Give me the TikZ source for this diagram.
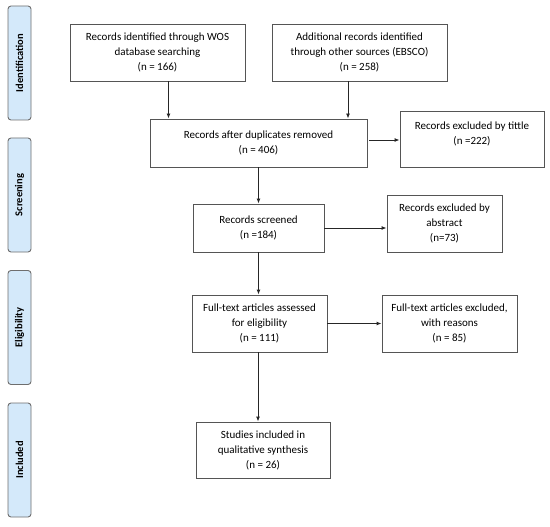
\documentclass[tikz,border=0pt]{standalone}
\usepackage{fontspec}
\setmainfont{Carlito}
\usepackage{tikz}
\usetikzlibrary{arrows.meta}

\definecolor{phasefill}{RGB}{212,233,250}
\definecolor{phaseline}{RGB}{110,110,110}
\definecolor{boxline}{RGB}{85,85,85}

\tikzset{
  flowbox/.style={draw=boxline,line width=0.9pt,fill=white,align=center,inner sep=2pt,
    font=\fontsize{11}{15}\selectfont},
  phase/.style={draw=phaseline,line width=0.9pt,fill=phasefill,rounded corners=3pt,
    minimum width=23pt,minimum height=114pt,inner sep=0pt,
    font=\fontsize{10.5}{12}\selectfont\bfseries},
  arr/.style={-{Latex[length=5pt,width=4pt]},line width=0.9pt,draw=black!85}
}

\begin{document}
\begin{tikzpicture}[x=1pt,y=-1pt]
	\useasboundingbox (0,0) rectangle (550,527);
	% phases on the left
	\node[phase] (pIdent) at (19.5,63) {\rotatebox{90}{Identification}};
	\node[phase] (pScreen) at (19.5,195) {\rotatebox{90}{Screening}};
	\node[phase] (pElig) at (19.5,327.5) {\rotatebox{90}{Eligibility}};
	\node[phase] (pIncl) at (19.5,460) {\rotatebox{90}{Included}};
	% boxes
	\node[flowbox,minimum width=175pt,minimum height=57pt] (wos) at (157.5,52.5)
		{Records identified through WOS\\database searching\\(n = 166)};
	\node[flowbox,minimum width=175pt,minimum height=57pt] (ebsco) at (359.5,52.5)
		{Additional records identified\\through other sources (EBSCO)\\(n = 258)};
	\node[flowbox,minimum width=217pt,minimum height=48pt] (dup) at (258.5,143)
		{Records after duplicates removed\\(n = 406)};
	\node[flowbox,minimum width=144pt,minimum height=56pt,text depth=12pt] (title) at (472,139)
		{Records excluded by tittle\\(n =222)};
	\node[flowbox,minimum width=131pt,minimum height=48pt] (screen) at (258.5,228)
		{Records screened\\(n =184)};
	\node[flowbox,minimum width=115pt,minimum height=57pt] (abstr) at (444.5,223.5)
		{Records excluded by\\abstract\\(n=73)};
	\node[flowbox,minimum width=135pt,minimum height=57pt] (full) at (259.5,323.5)
		{Full-text articles assessed\\for eligibility\\(n = 111)};
	\node[flowbox,minimum width=135pt,minimum height=57pt] (fexcl) at (449.5,323.5)
		{Full-text articles excluded,\\with reasons\\(n = 85)};
	\node[flowbox,minimum width=134pt,minimum height=56pt] (incl) at (263,450)
		{Studies included in\\qualitative synthesis\\(n = 26)};
	% arrows
	\draw[arr] ([xshift=11pt]wos.south) -- ([xshift=11pt]wos.south |- dup.north);
	\draw[arr] ([xshift=-11.5pt]ebsco.south) -- ([xshift=-11.5pt]ebsco.south |- dup.north);
	\draw[arr] ([shift={(2pt,3pt)}]dup.east) -- ([yshift=3pt]dup.east -| title.west);
	\draw[arr] (dup.south) -- (screen.north);
	\draw[arr] (screen.east) -- (screen.east -| abstr.west);
	\draw[arr] (screen.south) -- (screen.south |- full.north);
	\draw[arr] (full.east) -- (full.east -| fexcl.west);
	\draw[arr] ([xshift=-1.5pt]full.south) -- ([xshift=-1.5pt]full.south |- incl.north);
\end{tikzpicture}
\end{document}
